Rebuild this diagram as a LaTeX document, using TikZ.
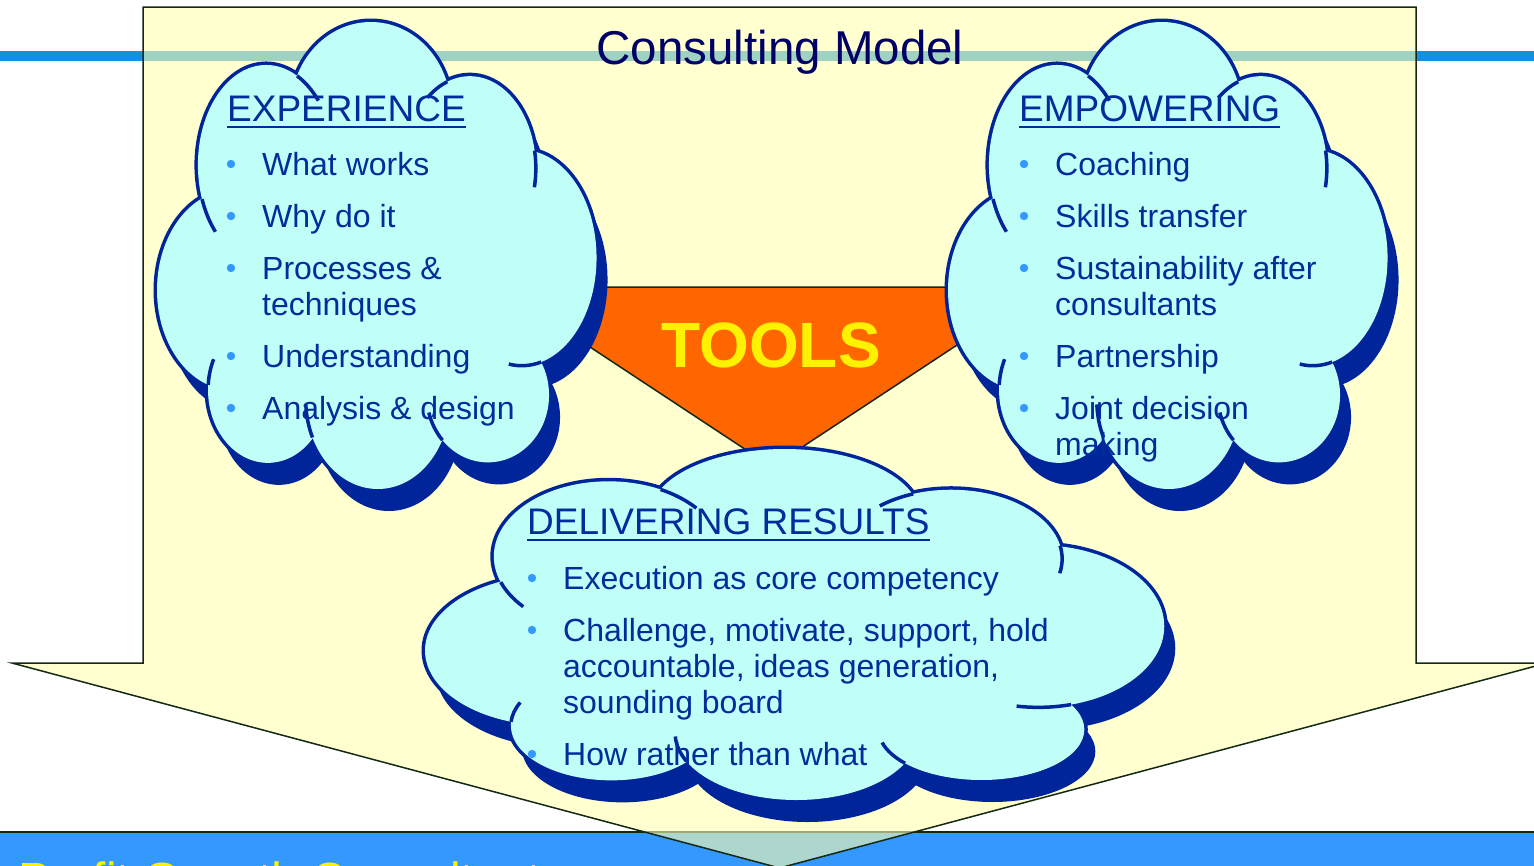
\documentclass[tikz,border=0pt]{standalone}
\usepackage{fontspec}
\setmainfont{Liberation Sans}
\usetikzlibrary{positioning}

\definecolor{barblue}{RGB}{51,153,255}
\definecolor{lineblue}{RGB}{19,144,224}
\definecolor{boxyellow}{RGB}{255,255,175}
\definecolor{edgedark}{RGB}{20,40,20}
\definecolor{cloudfill}{RGB}{192,255,248}
\definecolor{cloudnavy}{RGB}{0,36,153}
\definecolor{textnavy}{RGB}{0,45,155}
\definecolor{dotblue}{RGB}{51,153,255}
\definecolor{titlenavy}{RGB}{0,0,102}
\definecolor{toolorange}{RGB}{255,102,0}

\newcommand{\headfont}{\fontsize{37}{40}\selectfont}
\newcommand{\itemfont}{\fontsize{32}{36}\selectfont}

% lobes of a cloud in percent of its box: cx/cy/rx/ry
\newcommand{\lobelist}{24.8/30.6/15.5/21.4, 48.6/18.8/18.2/18.8, 71.1/31.3/15/19.7,
  82.9/50.5/17/23.1, 75.2/79.9/13.9/14.4, 50.2/80.9/16.4/19.1, 25.2/78.8/13.6/15.6,
  17/57.4/17/21.4}
% inner seams: lobe and angles
\newcommand{\seamlist}{24.8/30.6/15.5/21.4/160/138, 24.8/30.6/15.5/21.4/-63/-40,
  71.1/31.3/15/19.7/-110/-130, 71.1/31.3/15/19.7/-11/12, 82.9/50.5/17/23.1/75/100,
  75.2/79.9/13.9/14.4/138/165, 50.2/80.9/16.4/19.1/155/177, 25.2/78.8/13.6/15.6/184/205}

\newcommand{\puffcloud}[4]{%
  \begin{scope}[shift={(#1+11,#2+22)}, xscale=#3/100, yscale=#4/100]
    \foreach \cx/\cy/\rx/\ry in \lobelist
      {\fill[cloudnavy] (\cx,\cy) ellipse [x radius=\rx, y radius=\ry];}
    \fill[cloudnavy] (24.8,30.6) -- (48.6,18.8) -- (71.1,31.3) -- (82.9,50.5)
      -- (75.2,79.9) -- (50.2,80.9) -- (25.2,78.8) -- (17,57.4) -- cycle;
  \end{scope}
  \begin{scope}[shift={(#1,#2)}, xscale=#3/100, yscale=#4/100]
    \foreach \cx/\cy/\rx/\ry in \lobelist
      {\draw[cloudnavy, line width=7pt] (\cx,\cy) ellipse [x radius=\rx, y radius=\ry];}
    \foreach \cx/\cy/\rx/\ry in \lobelist
      {\fill[cloudfill] (\cx,\cy) ellipse [x radius=\rx, y radius=\ry];}
    \fill[cloudfill] (24.8,30.6) -- (48.6,18.8) -- (71.1,31.3) -- (82.9,50.5)
      -- (75.2,79.9) -- (50.2,80.9) -- (25.2,78.8) -- (17,57.4) -- cycle;
    \foreach \cx/\cy/\rx/\ry/\ta/\tb in \seamlist
      {\draw[seam] (\cx,\cy) ++({\rx*cos(\ta)},{\ry*sin(\ta)})
         arc [start angle=\ta, end angle=\tb, x radius=\rx, y radius=\ry];}
  \end{scope}}

\newcommand{\bulletitem}[3]{%
  \node[clouditem] (#1) at (#2) {#3};
  \fill[dotblue] ([xshift=-31pt,yshift=11pt]#1.base west) circle (4.2pt);}

\begin{document}
\begin{tikzpicture}[x=1pt, y=-1pt,
    clouditem/.style={anchor=base west, inner sep=0pt, font=\itemfont, text=textnavy},
    cloudhead/.style={anchor=base west, inner sep=0pt, font=\headfont, text=textnavy},
    headline/.style={textnavy, line width=2pt},
    seam/.style={draw=cloudnavy, line width=3.5pt}]
  \useasboundingbox (0,0) rectangle (1534,865);

  % bars
  \fill[barblue] (0,832) rectangle (1534,875);
  \draw[edgedark, line width=2pt] (0,832) -- (1534,832);
  \node[anchor=base west, inner sep=0pt, font=\fontsize{48}{50}\selectfont, text=yellow]
    (brand) at (18,896) {Profit Growth Consultants};
  \fill[lineblue] (0,51) rectangle (1534,61);

  % big arrow
  \filldraw[fill=boxyellow, fill opacity=0.6, draw=edgedark, line width=1.5pt]
    (143,7) -- (1416,7) -- (1416,663) -- (1547,663) -- (779.5,868) -- (12,663)
    -- (143,663) -- cycle;
  \node[anchor=base, font=\fontsize{47.5}{50}\selectfont, text=titlenavy]
    (title) at (780,64) {Consulting Model};

  % tools
  \filldraw[fill=toolorange, draw=edgedark, line width=1.5pt]
    (499,287) -- (1045,287) -- (772,467) -- cycle;
  \node[font=\fontsize{64}{64}\selectfont\bfseries, text=yellow] (tools) at (771,345) {TOOLS};

  % clouds
  \puffcloud{157}{22}{440}{467}
  \puffcloud{948}{22}{440}{467}
  \puffcloud{425}{449}{740}{351}

  \node[cloudhead] (exphead) at (227,121) {EXPERIENCE};
  \draw[headline] ([yshift=-6pt]exphead.base west) -- ([yshift=-6pt]exphead.base east);
  \bulletitem{exp1}{262,175}{What works}
  \bulletitem{exp2}{262,227}{Why do it}
  \bulletitem{exp3}{262,279}{Processes \&}
  \node[clouditem] (exp3b) at (262,315) {techniques};
  \bulletitem{exp4}{262,367}{Understanding}
  \bulletitem{exp5}{262,419}{Analysis \& design}

  \node[cloudhead] (emphead) at (1019,121) {EMPOWERING};
  \draw[headline] ([yshift=-6pt]emphead.base west) -- ([yshift=-6pt]emphead.base east);
  \bulletitem{emp1}{1055,175}{Coaching}
  \bulletitem{emp2}{1055,227}{Skills transfer}
  \bulletitem{emp3}{1055,279}{Sustainability after}
  \node[clouditem] (emp3b) at (1055,315) {consultants};
  \bulletitem{emp4}{1055,367}{Partnership}
  \bulletitem{emp5}{1055,419}{Joint decision}
  \node[clouditem] (emp5b) at (1055,455) {making};

  \node[cloudhead] (delhead) at (527,534) {DELIVERING RESULTS};
  \draw[headline] ([yshift=-6pt]delhead.base west) -- ([yshift=-6pt]delhead.base east);
  \bulletitem{del1}{563,589}{Execution as core competency}
  \bulletitem{del2}{563,641}{Challenge, motivate, support, hold}
  \node[clouditem] (del2b) at (563,677) {accountable, ideas generation,};
  \node[clouditem] (del2c) at (563,713) {sounding board};
  \bulletitem{del3}{563,765}{How rather than what}
\end{tikzpicture}
\end{document}
